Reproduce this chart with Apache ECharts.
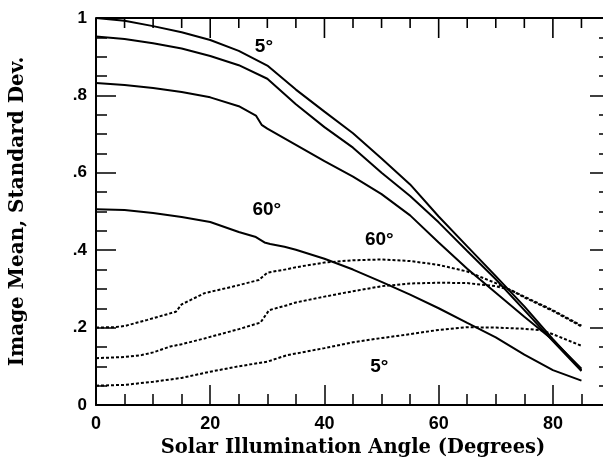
<!DOCTYPE html>
<html><head><meta charset="utf-8">
<script src="https://cdn.jsdelivr.net/npm/echarts@6/dist/echarts.min.js"></script>
<style>html,body{margin:0;padding:0;background:#fff}#c{width:603px;height:457px}</style>
</head><body><div id="c"></div>
<script>
// Axis ticks
const xTickValues = [0, 20, 40, 60, 80];
const topTickValues = [5,10,15,20,25,30,35,40,45,50,55,60,65,70,75,80,85];
const yTickLabels = ['0', '.2', '.4', '.6', '.8', '1'];
const xTitle = 'Solar Illumination Angle (Degrees)';
const yTitle = 'Image Mean, Standard Dev.';

// Image mean curves (solid), [angle, value]
const mean5 = [[0,1.0],[5,0.993],[10,0.979],[15,0.963],[20,0.943],[25,0.915],[30,0.877],[35,0.815],[40,0.758],[45,0.702],[50,0.637],[55,0.57],[60,0.487],[65,0.41],[70,0.333],[75,0.255],[80,0.17],[85,0.09]];
const meanB = [[0,0.952],[5,0.946],[10,0.935],[15,0.921],[20,0.902],[25,0.878],[30,0.843],[35,0.777],[40,0.718],[45,0.665],[50,0.6],[55,0.54],[60,0.472],[65,0.398],[70,0.325],[75,0.245],[80,0.165],[85,0.088]];
const meanC = [[0,0.832],[5,0.827],[10,0.819],[15,0.809],[20,0.795],[25,0.772],[28,0.748],[29,0.724],[30,0.714],[35,0.672],[40,0.63],[45,0.59],[50,0.545],[55,0.49],[60,0.42],[65,0.352],[70,0.29],[75,0.228],[78.5,0.186],[80,0.168],[85,0.094]];
const mean60 = [[0,0.506],[5,0.504],[10,0.496],[15,0.486],[20,0.473],[25,0.447],[28,0.434],[29.5,0.42],[30.5,0.416],[33,0.409],[35,0.401],[40,0.378],[45,0.35],[50,0.318],[55,0.285],[60,0.25],[65,0.212],[70,0.175],[75,0.13],[80,0.09],[85,0.063]];

// Standard deviation curves (dotted), [angle, value]
const std60 = [[0,0.2],[3,0.201],[5,0.204],[9,0.22],[14,0.241],[15,0.26],[19,0.289],[24,0.306],[28.5,0.323],[30,0.342],[33.5,0.351],[35,0.356],[40,0.368],[45,0.374],[50,0.376],[55,0.372],[60,0.362],[65,0.345],[70,0.315],[75,0.28],[80,0.245],[85,0.205]];
const stdB = [[0,0.121],[5,0.124],[8,0.129],[10,0.136],[13,0.151],[15,0.157],[19,0.172],[25,0.196],[28.8,0.213],[30.3,0.245],[33.5,0.258],[35,0.265],[40,0.28],[45,0.294],[50,0.307],[55,0.314],[60,0.316],[65,0.315],[70,0.307],[72.5,0.298],[75,0.278],[80,0.243],[85,0.203]];
const std5 = [[0,0.05],[5,0.052],[10,0.06],[15,0.07],[20,0.086],[25,0.1],[30,0.112],[33.5,0.129],[35,0.133],[40,0.147],[45,0.162],[50,0.173],[55,0.183],[60,0.194],[65,0.201],[70,0.2],[75,0.197],[78,0.193],[80,0.183],[85,0.153]];

// Curve annotations [angle, value, text]
const notes = [[29.4,0.925,'5°'],[29.9,0.505,'60°'],[49.6,0.428,'60°'],[49.6,0.1,'5°']];

const solid = {color:'#000', width:2};
const dotted = {color:'#000', width:2, type:[3,2]};
function line(data, style){
  return {type:'line', data:data, showSymbol:false, symbol:'none', lineStyle:style, silent:true, animation:false, z:3};
}
const tickFont = {fontFamily:'Liberation Sans', fontWeight:'bold', fontSize:18, color:'#000'};
function axLine(){ return {show:true, onZero:false, lineStyle:{color:'#000', width:2}}; }
function blank(){ return ''; }
function topTickLen(v){ return (v % 20 === 0) ? 20 : 10; }
const chart = echarts.init(document.getElementById('c'), null, {renderer:'canvas'});
chart.setOption({
  animation:false,
  backgroundColor:'#fff',
  grid:{left:96, right:-7, top:18, bottom:52, containLabel:false, outerBoundsMode:'none'},
  xAxis:[{
    type:'value', min:0, max:90, interval:20, position:'bottom',
    name:xTitle, nameLocation:'middle', nameGap:31,
    nameTextStyle:{fontFamily:'DejaVu Serif', fontWeight:'bold', fontSize:19.5, color:'#000'},
    axisLine:axLine(),
    axisTick:{show:true, inside:true, length:20, lineStyle:{color:'#000', width:1.5}},
    minorTick:{show:true, splitNumber:4, length:11, lineStyle:{color:'#000', width:1.5}},
    axisLabel:Object.assign({margin:10, showMaxLabel:false, formatter:function(v){return xTickValues.indexOf(v)>=0 ? String(v) : '';}}, tickFont),
    splitLine:{show:false}
  }],
  yAxis:[{
    type:'value', min:0, max:1, interval:0.2, position:'left',
    name:yTitle, nameLocation:'middle', nameGap:68,
    nameTextStyle:{fontFamily:'DejaVu Serif', fontWeight:'bold', fontSize:20, color:'#000'},
    axisLine:axLine(),
    axisTick:{show:true, inside:true, length:20, lineStyle:{color:'#000', width:1.5}},
    minorTick:{show:true, splitNumber:4, length:11, lineStyle:{color:'#000', width:1.5}},
    axisLabel:Object.assign({margin:9, formatter:function(v){return yTickLabels[Math.round(v*5)] || '';}}, tickFont, {fontSize:17}),
    splitLine:{show:false}
  },{
    type:'value', min:0, max:1, interval:0.2, position:'right',
    axisLine:axLine(),
    axisTick:{show:true, inside:true, length:20, lineStyle:{color:'#000', width:1.5}},
    minorTick:{show:true, splitNumber:4, length:11, lineStyle:{color:'#000', width:1.5}},
    axisLabel:{show:true, formatter:blank}, splitLine:{show:false}
  }],
  series:[
    // top frame of the plot, at the axis maximum
    {type:'line', data:[[0,1],[90,1]], showSymbol:false, symbol:'none', clip:false, silent:true, z:4,
     lineStyle:{color:'#000', width:2}},
    // top inward ticks, positioned through the axis scale
    {type:'scatter', data:topTickValues.map(function(v){return [v,1];}), clip:false, silent:true, z:4,
     symbol:'rect',
     symbolSize:function(val){return [1.6, topTickLen(val[0])];},
     symbolOffset:function(val){return [0, topTickLen(val[0]) / 2];},
     itemStyle:{color:'#000', opacity:1}},
    line(mean5, solid), line(meanB, solid), line(meanC, solid), line(mean60, solid),
    line(std60, dotted), line(stdB, dotted), line(std5, dotted),
    {type:'scatter', symbolSize:0.1, itemStyle:{color:'#fff', opacity:1}, silent:true, z:5,
     data:notes.map(function(n){return {value:[n[0],n[1]], name:n[2]};}),
     label:{show:true, position:'inside', formatter:'{b}', fontFamily:'Liberation Sans', fontWeight:'bold', fontSize:19, color:'#000', opacity:1, textBorderWidth:0}}
  ]
});
</script></body></html>
